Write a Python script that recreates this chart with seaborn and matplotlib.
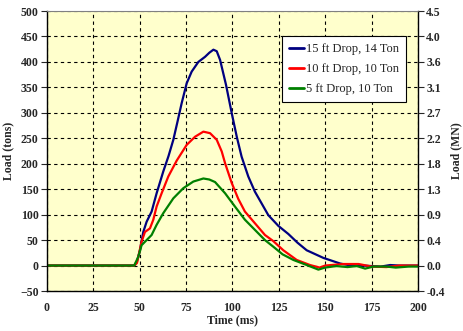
import numpy as np
import pandas as pd
import matplotlib
matplotlib.use("Agg")
import matplotlib.pyplot as plt
import seaborn as sns

# ---- data ----
t15 = [0, 47, 48.5, 50.1, 51.9, 53.7, 56.4, 59.1, 62.7, 65.5, 68.1, 70.5, 72.6, 75.3, 78,
       81.6, 85.2, 87.5, 89.7, 91.5, 93.3, 96.5, 99.6, 102.3, 104.9, 108.5, 112.1, 115.7,
       119.3, 124.7, 130.1, 135, 140, 149, 158, 164, 170, 180, 185, 190, 200]
v15 = [0, 0, 8, 30, 66, 86, 106, 142, 185, 215, 247, 285, 319, 358, 381,
       400, 410, 418, 424, 421, 404, 355, 299, 253, 214, 175, 145, 122,
       99, 78, 62, 45, 30, 15, 4, 0, 0, -2, 1, 0, 0]

t10 = [0, 47, 48.5, 51, 52.8, 55.5, 57.3, 59.1, 61.8, 65.4, 69.9, 75.3, 79.8, 84.3,
       87.9, 91.5, 94.2, 96, 99.6, 103.1, 106.7, 112.1, 117.5, 122, 127.4, 134.6, 141.8,
       147, 150, 160, 168, 175, 183, 190, 200]
v10 = [0, 0, 5, 47, 66, 73, 90, 116, 142, 175, 206, 237, 253, 263,
       260, 247, 224, 201, 162, 131, 106, 83, 60, 48, 30, 11, 1,
       -4, 0, 3, 3, -2, -3, 0, 0]

t5 = [0, 47, 49.2, 51, 53.7, 56.4, 59.1, 62.7, 68.1, 73.5, 78.9, 84.3, 87.5, 90.6, 96,
      101.3, 106.7, 112.1, 117.5, 122, 127, 132.8, 140, 146.3, 149.9, 156, 162, 167,
      171.5, 176, 183, 188, 195, 200]
v5 = [0, 0, 17, 40, 50, 60, 80, 103, 132, 152, 165, 171, 169, 164, 142,
      116, 90, 70, 50, 37, 22, 11, 1, -8, -4, -1, -3, -1,
      -6, -2, -2, -4, -2, -2]

series_names = ["15 ft Drop, 14 Ton", "10 ft Drop, 10 Ton", "5 ft Drop, 10 Ton"]
left_ticks = [-50, 0, 50, 100, 150, 200, 250, 300, 350, 400, 450, 500]
right_labels = ["-0.4", "0.0", "0.4", "0.9", "1.3", "1.8", "2.2", "2.7", "3.1", "3.6", "4.0", "4.5"]
x_ticks = [0, 25, 50, 75, 100, 125, 150, 175, 200]

df = pd.concat([
    pd.DataFrame({"Time": t15, "Load": v15, "Series": series_names[0]}),
    pd.DataFrame({"Time": t10, "Load": v10, "Series": series_names[1]}),
    pd.DataFrame({"Time": t5, "Load": v5, "Series": series_names[2]}),
], ignore_index=True)

sns.set_style("white")
plt.rcParams["font.family"] = ["Liberation Serif", "DejaVu Serif"]

fig = plt.figure(figsize=(4.64, 3.31), dpi=100)
ax = fig.add_axes([47 / 464, 1 - 291 / 331, (418 - 47) / 464, (291 - 11) / 331])
ax.set_facecolor("#FFFFCC")

palette = {series_names[0]: "#000080", series_names[1]: "#FF0000", series_names[2]: "#008000"}
sns.lineplot(data=df, x="Time", y="Load", hue="Series", palette=palette,
             sort=False, estimator=None, linewidth=1.6, ax=ax)

ax.set_xlim(0, 200)
ax.set_ylim(-50, 500)
ax.set_xticks(x_ticks)
ax.set_yticks(left_ticks)
ax.grid(True, color="black", linestyle=(0, (3, 3)), linewidth=0.8)
ax.tick_params(axis="y", direction="out", length=4, width=0.8, labelsize=8.5, pad=2)
ax.tick_params(axis="x", length=0, labelsize=8.5, pad=8)
for lab in ax.get_xticklabels() + ax.get_yticklabels():
    lab.set_fontweight("bold")
ax.set_xlabel("Time (ms)", fontsize=8.5, fontweight="bold", labelpad=0)
ax.set_ylabel("Load (tons)", fontsize=8.5, fontweight="bold", labelpad=4)
for s in ["left", "bottom", "right"]:
    ax.spines[s].set_color("black")
    ax.spines[s].set_linewidth(1.0)
ax.spines["top"].set_color("#808080")
ax.spines["top"].set_linewidth(0.8)

ax2 = ax.twinx()
ax2.set_ylim(-50, 500)
ax2.set_yticks(left_ticks)
ax2.set_yticklabels(right_labels, fontsize=8.5, fontweight="bold")
ax2.tick_params(axis="y", direction="out", length=4, width=0.8, pad=2)
ax2.set_ylabel("Load (MN)", fontsize=8.5, fontweight="bold", rotation=90, labelpad=4)
for s in ax2.spines.values():
    s.set_visible(False)

leg = ax.legend(loc="upper left", bbox_to_anchor=((282 - 47) / 371, (291 - 36) / 280),
                frameon=True, fancybox=False, fontsize=9, handlelength=1.2,
                handletextpad=0.2, borderpad=0.55, labelspacing=0.65, borderaxespad=0)
leg.get_frame().set_edgecolor("black")
leg.get_frame().set_linewidth(0.8)
leg.get_frame().set_facecolor("white")
leg.get_frame().set_alpha(1)
for line in leg.get_lines():
    line.set_linewidth(2)

fig.savefig("out.png", dpi=100)
